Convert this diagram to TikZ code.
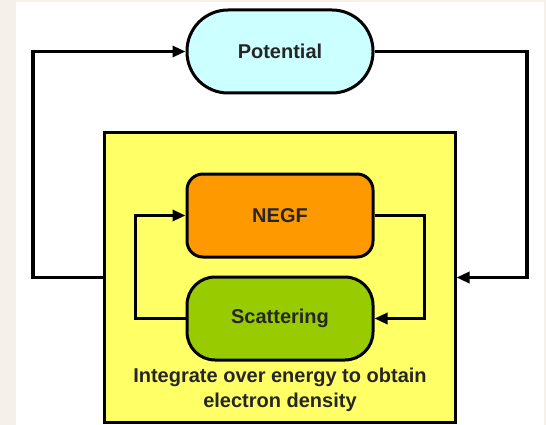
\documentclass[tikz,border=0pt]{standalone}
\usepackage{fontspec}
\setmainfont{Liberation Sans}
\usetikzlibrary{arrows.meta}
\definecolor{beige}{HTML}{F5F1EA}
\definecolor{potfill}{HTML}{CCFFFF}
\definecolor{negffill}{HTML}{FF9900}
\definecolor{scatfill}{HTML}{99CC00}
\definecolor{boxfill}{HTML}{FFFF66}
\begin{document}
\begin{tikzpicture}[x=1pt,y=-1pt,
  blk/.style={draw=black, line width=3pt, minimum width=186pt, minimum height=83pt,
    font=\fontsize{20}{24}\selectfont\bfseries, text=black!85, inner sep=0pt},
  conn/.style={draw=black, line width=3.2pt},
  arr/.style={conn, -{Triangle[length=13pt,width=11pt]}}]
\useasboundingbox (0,0) rectangle (546,425);
\fill[beige] (0,0) rectangle (546,425);
\fill[white] (16,2) rectangle (544,425);
\node[draw=black, line width=3pt, fill=boxfill, minimum width=351pt, minimum height=289pt, inner sep=0pt] (yb) at (279.5,277.5) {};
\node[blk, fill=potfill, rounded corners=41pt] (pot) at (280,51.5) {Potential};
\node[blk, fill=negffill, rounded corners=16pt] (negf) at (280,215.5) {NEGF};
\node[blk, fill=scatfill, rounded corners=28pt] (scat) at (280,318.5) {Scattering};
\node[align=center, font=\fontsize{20}{25}\selectfont\bfseries, text=black!85] (txt) at (280,389.5) {Integrate over energy to obtain\\electron density};
\coordinate (L) at (33,277.5);
\coordinate (R) at (527,277.5);
\draw[arr] (yb.west) -- (L) |- (pot.west);
\draw[arr] (pot.east) -| (R) -- (yb.east);
\draw[arr] (scat.west) -- ++(-50,0) |- (negf.west);
\draw[arr] (negf.east) -- ++(50,0) |- (scat.east);
\end{tikzpicture}
\end{document}
